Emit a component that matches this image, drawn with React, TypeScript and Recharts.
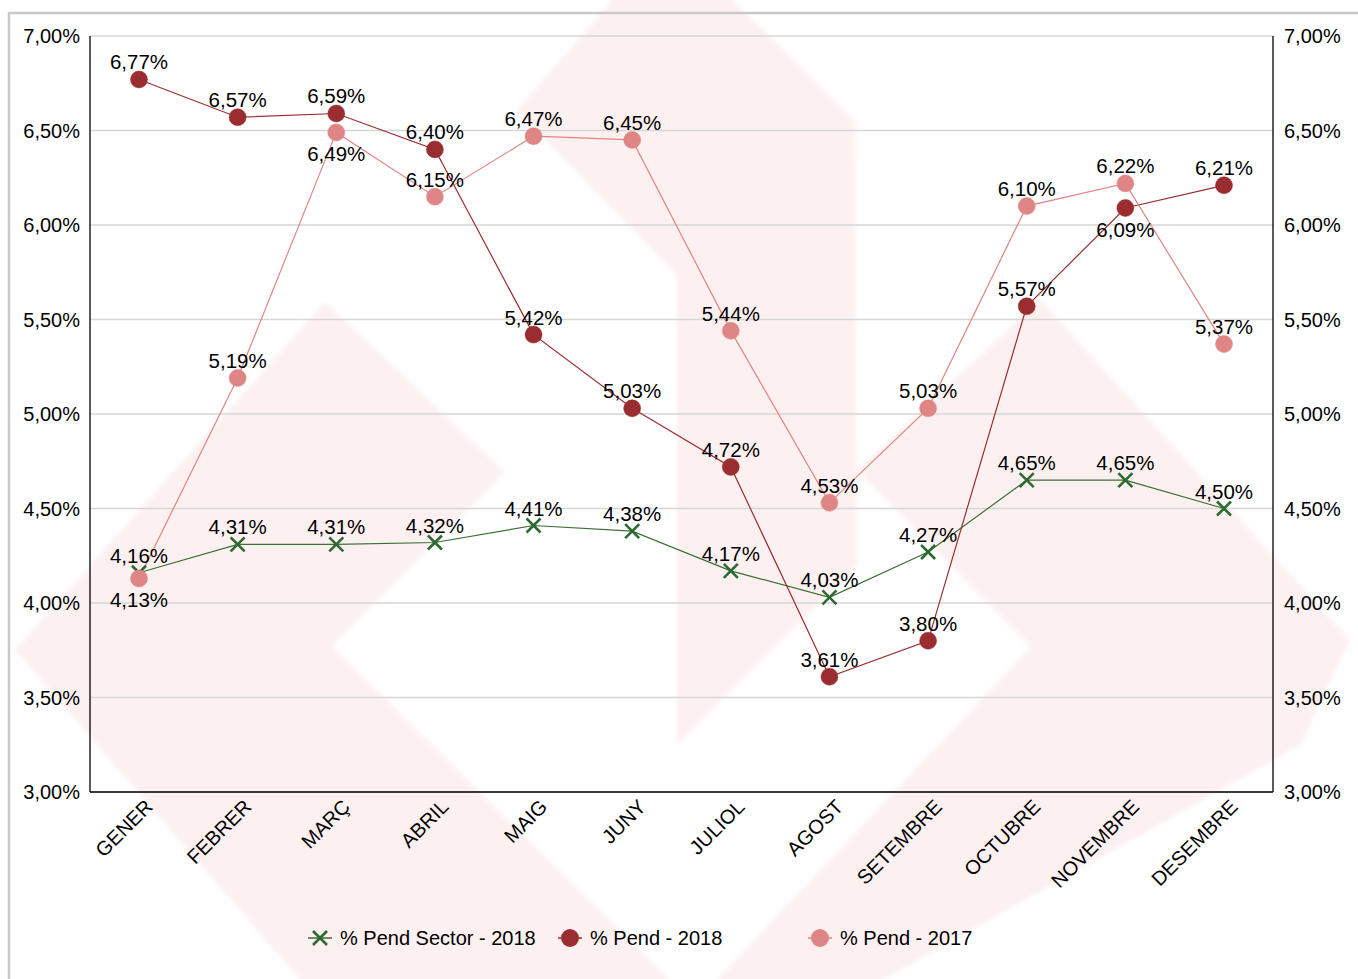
import React from 'react';
import { LineChart, Line, XAxis, YAxis, CartesianGrid, Legend } from 'recharts';

const categories = ['GENER', 'FEBRER', 'MARÇ', 'ABRIL', 'MAIG', 'JUNY', 'JULIOL', 'AGOST', 'SETEMBRE', 'OCTUBRE', 'NOVEMBRE', 'DESEMBRE'];
const sector2018 = [4.16, 4.31, 4.31, 4.32, 4.41, 4.38, 4.17, 4.03, 4.27, 4.65, 4.65, 4.5];
const pend2018 = [6.77, 6.57, 6.59, 6.4, 5.42, 5.03, 4.72, 3.61, 3.8, 5.57, 6.09, 6.21];
const pend2017 = [4.13, 5.19, 6.49, 6.15, 6.47, 6.45, 5.44, 4.53, 5.03, 6.1, 6.22, 5.37];
const yTicks = [3, 3.5, 4, 4.5, 5, 5.5, 6, 6.5, 7];
const seriesNames = ['% Pend Sector - 2018', '% Pend - 2018', '% Pend - 2017'];
const belowPend2018 = [10];
const belowPend2017 = [0, 2];

const data = categories.map((month, i) => ({
  month,
  sector: sector2018[i],
  p18: pend2018[i],
  p17: pend2017[i],
}));

const W = 1358;
const H = 979;
const FONT = '"Liberation Sans", Arial, sans-serif';
const C_GREEN = '#3a6f36';
const C_GREEN_X = '#2d6a31';
const C_DARK = '#9a2d30';
const C_PINK = '#e08585';
const C_BG = '#fdf0f0';
const PLOT_BOTTOM = 792;

const fmt = (v: number) => v.toFixed(2).replace('.', ',') + '%';

const makeLabel = (below: number[]) => (props: any) => {
  const { x, y, value, index } = props;
  if (x == null || y == null) return null;
  const isBelow = below.includes(index);
  return (
    <text
      key={`lbl-${index}`}
      x={x}
      y={isBelow ? y + 29 : y - 10}
      textAnchor="middle"
      fontSize={20.5}
      fontFamily={FONT}
      fill="#000"
    >
      {fmt(value)}
    </text>
  );
};

const CrossDot = (props: any) => {
  const { cx, cy, index } = props;
  if (cx == null || cy == null) return null;
  const s = 7;
  return (
    <g key={`x-${index}`}>
      <line x1={cx - s} y1={cy - s} x2={cx + s} y2={cy + s} stroke={C_GREEN_X} strokeWidth={2.6} />
      <line x1={cx - s} y1={cy + s} x2={cx + s} y2={cy - s} stroke={C_GREEN_X} strokeWidth={2.6} />
    </g>
  );
};

const XTick = (props: any) => {
  const { x, payload } = props;
  const ax = x + 15;
  const ay = PLOT_BOTTOM + 16;
  return (
    <text
      x={ax}
      y={ay}
      transform={`rotate(-45 ${ax} ${ay})`}
      textAnchor="end"
      fontSize={20}
      fontFamily={FONT}
      fill="#000"
    >
      {payload.value}
    </text>
  );
};

const LegendContent = () => {
  const items = [
    { name: seriesNames[0], kind: 'x', color: C_GREEN },
    { name: seriesNames[1], kind: 'c', color: C_DARK },
    { name: seriesNames[2], kind: 'c', color: C_PINK },
  ];
  return (
    <div style={{ display: 'flex', paddingLeft: 308, paddingTop: 34, fontFamily: FONT, fontSize: 20, color: '#000' }}>
      {items.map((it) => (
        <div key={it.name} style={{ width: 250, display: 'flex', alignItems: 'center', height: 24 }}>
          <svg width={24} height={24} style={{ overflow: 'visible' }}>
            <line x1={0} y1={12} x2={24} y2={12} stroke={it.color} strokeWidth={1.5} />
            {it.kind === 'x' ? (
              <g>
                <line x1={5} y1={5} x2={19} y2={19} stroke={C_GREEN_X} strokeWidth={2.6} />
                <line x1={5} y1={19} x2={19} y2={5} stroke={C_GREEN_X} strokeWidth={2.6} />
              </g>
            ) : (
              <circle cx={12} cy={12} r={9} fill={it.color} />
            )}
          </svg>
          <span style={{ marginLeft: 8, whiteSpace: 'nowrap' }}>{it.name}</span>
        </div>
      ))}
    </div>
  );
};

const Watermark = () => (
  <svg width={W} height={H} style={{ position: 'absolute', left: 0, top: 0 }}>
    <defs>
      <filter id="soft" x="-5%" y="-5%" width="110%" height="110%">
        <feGaussianBlur stdDeviation={2} />
      </filter>
    </defs>
    <rect x={0} y={0} width={W} height={H} fill="#fff" />
    <g fill={C_BG} filter="url(#soft)">
      <polygon points="15,650 325,302 505,472 332,646 690,1000 318,1000" />
      <polygon points="668,-63 855,120 857,565 677,745 677,275 517,110" />
      <polygon points="1040,300 1350,640 1300,745 847,1000 698,1000 1031,647 857,470" />
    </g>
    <rect x={9} y={13} width={1420} height={1020} fill="none" stroke="#c9c9c9" strokeWidth={2.5} />
  </svg>
);

export default function App() {
  return (
    <div style={{ position: 'absolute', left: 0, top: 0, width: W, height: H, background: '#fff' }}>
      <Watermark />
      <div style={{ position: 'absolute', left: 0, top: 0 }}>
        <LineChart width={W} height={H} data={data} margin={{ top: 36, right: 0, bottom: 0, left: 0 }}>
          <CartesianGrid vertical={false} stroke="#d6d6d6" strokeWidth={1.3} />
          <XAxis
            dataKey="month"
            interval={0}
            height={100}
            padding={{ left: 49, right: 49 }}
            tick={<XTick />}
            tickLine={false}
            axisLine={{ stroke: '#000', strokeWidth: 1.3 }}
          />
          <YAxis
            domain={[3, 7]}
            ticks={yTicks}
            width={90}
            tickLine={false}
            tickMargin={4}
            axisLine={{ stroke: '#000', strokeWidth: 1.3 }}
            tickFormatter={fmt}
            tick={{ fontSize: 20, fontFamily: FONT, fill: '#000' }}
            allowDataOverflow
          />
          <YAxis
            yAxisId="right"
            orientation="right"
            domain={[3, 7]}
            ticks={yTicks}
            width={85}
            tickLine={false}
            tickMargin={5}
            axisLine={{ stroke: '#000', strokeWidth: 1.3 }}
            tickFormatter={fmt}
            tick={{ fontSize: 20, fontFamily: FONT, fill: '#000', textAnchor: 'start' }}
            allowDataOverflow
          />
          <Legend verticalAlign="bottom" height={87} content={<LegendContent />} />
          <Line
            dataKey="sector"
            name={seriesNames[0]}
            stroke={C_GREEN}
            strokeWidth={1.2}
            dot={<CrossDot />}
            activeDot={false}
            label={makeLabel([])}
            isAnimationActive={false}
          />
          <Line
            dataKey="p18"
            name={seriesNames[1]}
            stroke={C_DARK}
            strokeWidth={1.2}
            dot={{ r: 8.5, fill: C_DARK, stroke: C_DARK, strokeWidth: 0.5 }}
            activeDot={false}
            label={makeLabel(belowPend2018)}
            isAnimationActive={false}
          />
          <Line
            dataKey="p17"
            name={seriesNames[2]}
            stroke={C_PINK}
            strokeWidth={1.2}
            dot={{ r: 8.5, fill: C_PINK, stroke: C_PINK, strokeWidth: 0.5 }}
            activeDot={false}
            label={makeLabel(belowPend2017)}
            isAnimationActive={false}
          />
        </LineChart>
      </div>
    </div>
  );
}
